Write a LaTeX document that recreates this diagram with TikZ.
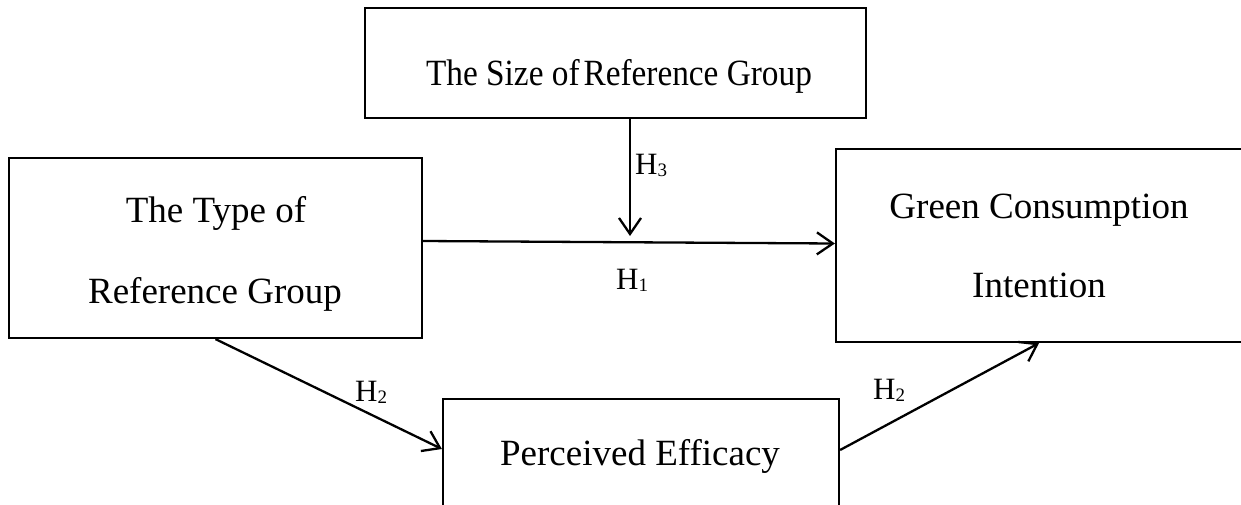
\documentclass[tikz,border=0pt]{standalone}
\usepackage{fontspec}
\setmainfont{Liberation Serif}
\usetikzlibrary{arrows.meta}
\newcommand\Hlab[1]{H\raisebox{-2pt}{\fontsize{19}{19}\selectfont #1}}
\tikzset{
  box/.style={draw, line width=2.2pt, inner sep=0pt},
  txt/.style={anchor=base, inner sep=0pt, font=\fontsize{37}{44}\selectfont},
  lab/.style={anchor=base west, inner sep=0pt, font=\fontsize{31}{36}\selectfont},
  arr/.style={line width=2.3pt, -{Straight Barb[length=16pt,width=22pt,line width=2.3pt]}}
}
\begin{document}
\begin{tikzpicture}[x=1pt,y=-1pt]
\clip (0,0) rectangle (1241,504);
\fill[white] (0,0) rectangle (1241,504);
% boxes
\node[box, minimum width=501pt, minimum height=110pt] (size) at (615.5,63) {};
\node[box, minimum width=413pt, minimum height=180pt] (type) at (215.5,248) {};
\node[box, minimum width=406pt, minimum height=193pt] (green) at (1039,245.5) {};
\node[box, minimum width=396pt, minimum height=110pt] (eff) at (641,454) {};
% texts
\node[txt] (tsize) at (619,85) {\scalebox{0.9}[1]{The Size of\hspace{0.12em}Reference Group}};
\node[txt] (ttype1) at (216,222) {The Type of};
\node[txt] (ttype2) at (215,303) {Reference Group};
\node[txt] (tgreen1) at (1039,218) {Green Consumption};
\node[txt] (tgreen2) at (1039,297) {Intention};
\node[txt] (teff) at (640,465) {Perceived Efficacy};
% connectors
\coordinate (m) at (630,236);
\draw[arr] (size.south -| m) -- (m);
\draw[arr] ([yshift=7pt]type.east) -- ([yshift=2pt]green.west);
\draw[arr] (type.south) -- ([yshift=5pt]eff.west);
\draw[arr] ([yshift=4pt]eff.east) -- (green.south);
% labels
\node[lab] (h3) at (635,174) {\Hlab{3}};
\node[lab] (h1) at (616,289) {\Hlab{1}};
\node[lab] (h2a) at (355,401) {\Hlab{2}};
\node[lab] (h2b) at (873,399) {\Hlab{2}};
\end{tikzpicture}
\end{document}
